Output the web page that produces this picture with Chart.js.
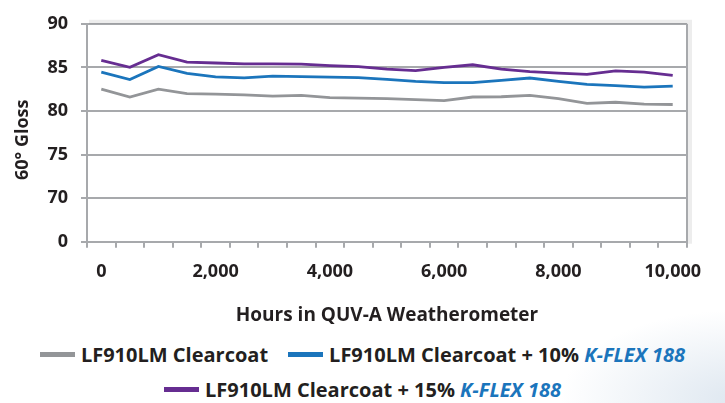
<!DOCTYPE html>
<html><head><meta charset="utf-8">
<script src="https://cdn.jsdelivr.net/npm/chart.js@4"></script>
<style>
html,body{margin:0;padding:0;width:725px;height:403px;overflow:hidden;background:#fff;font-family:"Open Sans",sans-serif;}
#wrap{position:relative;width:725px;height:403px;background:radial-gradient(ellipse 180px 90px at 740px 400px, rgba(200,215,230,0.6), rgba(255,255,255,0) 100%);}
#cw{position:absolute;left:0;top:0;width:725px;height:330px;}
.legend{position:absolute;left:0;width:725px;display:flex;justify-content:center;align-items:center;font-weight:700;font-size:20px;color:#231f20;white-space:nowrap;}
.item{display:flex;align-items:center;margin:0 10px;}
.sw{display:inline-block;width:35px;height:5px;margin-right:6px;}
.k{color:#1b75bc;font-style:italic;font-weight:700;}
</style></head>
<body>
<div id="wrap">
<div id="cw"><canvas id="c"></canvas></div>
<div class="legend" style="top:341px;">
  <span class="item"><span class="sw" style="background:#939598"></span>LF910LM Clearcoat</span>
  <span class="item"><span class="sw" style="background:#1b75bc"></span>LF910LM Clearcoat + 10%&nbsp;<span class="k">K-FLEX 188</span></span>
</div>
<div class="legend" style="top:376px;">
  <span class="item"><span class="sw" style="background:#662d91"></span>LF910LM Clearcoat + 15%&nbsp;<span class="k">K-FLEX 188</span></span>
</div>
</div>
<script>
const hours = [0,500,1000,1500,2000,2500,3000,3500,4000,4500,5000,5500,6000,6500,7000,7500,8000,8500,9000,9500,10000];
const clearcoat = [82.5,81.6,82.5,82.0,81.93,81.85,81.7,81.78,81.52,81.48,81.41,81.3,81.19,81.6,81.63,81.78,81.41,80.86,81.0,80.78,80.74];
const kflex10 = [84.45,83.6,85.1,84.3,83.9,83.8,84.0,83.93,83.89,83.82,83.62,83.4,83.26,83.26,83.52,83.78,83.4,83.04,82.9,82.74,82.86];
const kflex15 = [85.8,85.0,86.45,85.6,85.5,85.4,85.4,85.37,85.2,85.08,84.8,84.63,85.0,85.3,84.8,84.52,84.33,84.19,84.6,84.45,84.08];
const yTicks = [65,70,75,80,85,90];
const yTickLabels = ['0','70','75','80','85','90'];
const xLabelHours = [0,2000,4000,6000,8000,10000];

const GRID = '#a7a9ac';
const TXT = '#231f20';
const FONT = '"Open Sans", sans-serif';

const borderPlugin = {
  id:'borders',
  afterDraw(chart){
    const {ctx, chartArea:a} = chart;
    ctx.save();
    ctx.strokeStyle='rgba(0,0,0,0.07)';
    ctx.lineWidth=4;
    ctx.beginPath();
    ctx.moveTo(a.left+2, a.top-2); ctx.lineTo(a.right+3, a.top-2); ctx.lineTo(a.right+3, a.bottom+2);
    ctx.stroke();
    ctx.strokeStyle=GRID;
    ctx.lineWidth=2;
    ctx.beginPath();
    ctx.moveTo(a.right, a.top); ctx.lineTo(a.right, a.bottom);
    ctx.stroke();
    ctx.restore();
  }
};

new Chart(document.getElementById('c'), {
  type:'line',
  data:{
    labels: hours,
    datasets:[
      {label:'LF910LM Clearcoat', data:clearcoat, borderColor:'#939598', borderWidth:2.8, pointRadius:0, tension:0},
      {label:'LF910LM Clearcoat + 10% K-FLEX 188', data:kflex10, borderColor:'#1b75bc', borderWidth:2.8, pointRadius:0, tension:0},
      {label:'LF910LM Clearcoat + 15% K-FLEX 188', data:kflex15, borderColor:'#662d91', borderWidth:2.8, pointRadius:0, tension:0}
    ]
  },
  options:{
    responsive:true, maintainAspectRatio:false, animation:false,
    layout:{padding:{left:0,right:38,top:16,bottom:0}},
    plugins:{legend:{display:false}, tooltip:{enabled:false}},
    scales:{
      x:{
        type:'category', offset:true,
        grid:{offset:true, drawOnChartArea:false, drawTicks:true, tickLength:6, color:GRID, lineWidth:2},
        border:{color:GRID, width:2},
        ticks:{autoSkip:false, maxRotation:0, padding:13, color:TXT, font:{family:FONT, size:18, weight:'700'},
          callback(v, i){ const h = hours[i]; return xLabelHours.includes(h) ? h.toLocaleString('en-US') : ''; }},
        title:{display:true, text:'Hours in QUV-A Weatherometer', color:TXT, font:{family:FONT, size:19, weight:'700'}, padding:{top:10,bottom:3}},
        afterFit(s){ s.height = 330 - 241.7; }
      },
      y:{
        min:65, max:90,
        afterBuildTicks(s){ s.ticks = yTicks.map(v=>({value:v})); },
        grid:{color:GRID, lineWidth:2, tickLength:6},
        border:{color:GRID, width:2},
        ticks:{padding:13, color:TXT, font:{family:FONT, size:18, weight:'700'},
          callback(v){ const i = yTicks.indexOf(v); return i>=0 ? yTickLabels[i] : ''; }},
        title:{display:true, text:'60° Gloss   ', color:TXT, font:{family:FONT, size:18, weight:'700'}, padding:{top:12,bottom:4}},
        afterFit(s){ s.width = 87; }
      }
    }
  },
  plugins:[borderPlugin]
});
</script>
</body></html>
